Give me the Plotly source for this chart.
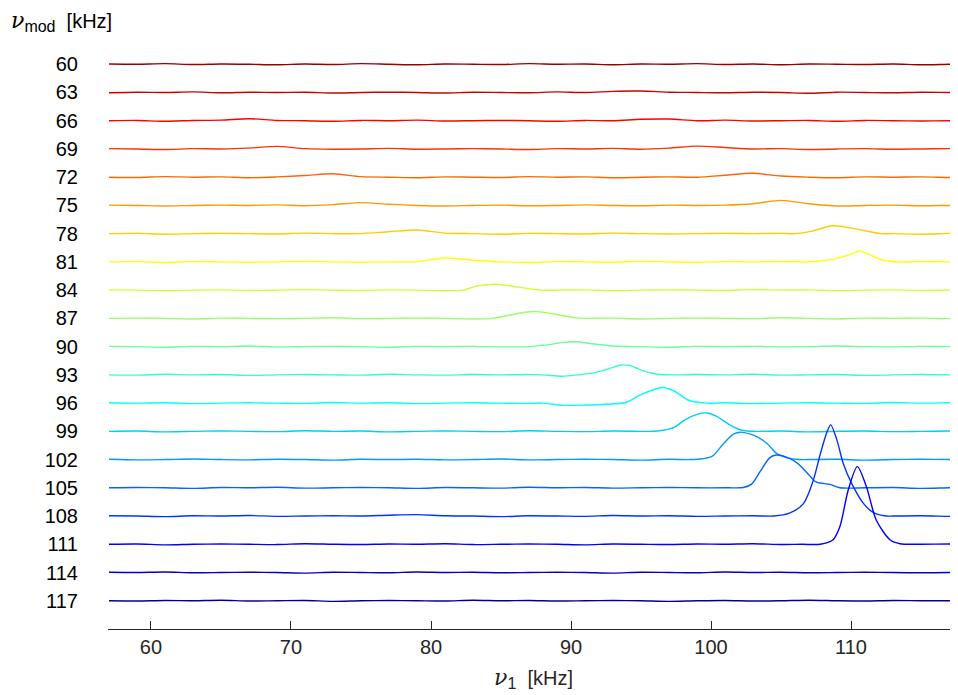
import plotly.graph_objects as go

# nu_mod values (offset of each trace), top to bottom
nu_mod = [60, 63, 66, 69, 72, 75, 78, 81, 84, 87, 90, 93, 96, 99, 102, 105, 108, 111, 114, 117]

# jet(20) colours, reversed (60 = dark red ... 117 = dark blue)
colors = ["#990000", "#cc0000", "#ff0000", "#ff3300", "#ff6600", "#ff9900", "#ffcc00",
          "#ffff00", "#ccff33", "#99ff66", "#66ff99", "#33ffcc", "#00ffff", "#00ccff",
          "#0099ff", "#0066ff", "#0033ff", "#0000ff", "#0000cc", "#000099"]

# baseline knot positions of nu_1 [kHz]
nu1_grid = [57, 59, 61, 63, 65, 67, 69, 71, 73, 75, 77, 79, 81, 83, 85, 87, 89, 91, 93, 95,
            97, 99, 101, 103, 105, 107, 109, 111, 113, 115, 117]
nu1_end = 117.6

# baseline wiggles (units of 0.01 of trace spacing), one value per grid knot
w60 = [1, 0, 2, -1, 1, 0, -2, 1, -1, 2, 0, -2, 1, 0, -1, 2, 0, 1, -2, 1, 0, 2, -1, 1, -2, 1, 0, -1, 1, -2, 0]
w63 = [-1, 1, 0, 2, -1, 1, 0, 1, -2, 0, 1, 0, -2, 1, 0, -1, 2, 0, 4, 5, 1, 0, -1, 1, 0, -3, 1, 0, -1, 1, 0]
w66 = [0, 1, -2, 1, 2, 7, 1, 0, -2, 1, 0, 2, -1, 0, 1, 0, -2, 1, 0, 5, 6, 0, 2, -1, 0, 1, -2, 1, 0, -1, 0]
w69 = [1, 0, -2, 1, 0, 3, 9, 1, -1, 0, 2, -1, 0, 1, 0, -2, 1, 0, 2, -1, 3, 10, 5, 0, 1, -2, 0, 1, -1, 0, 1]
w72 = [0, -1, 2, 0, 1, -2, 1, 6, 12, 2, 0, -2, 1, 0, -1, 2, 0, 1, -2, 0, 1, 0, 7, 14, 4, 0, -2, 1, 0, 1, -1]
w75 = [1, 0, -2, 0, 1, 0, 2, -1, 3, 10, 4, 0, -2, 0, 1, -1, 0, 2, 0, -1, 1, 0, 1, 6, 18, 6, -2, 0, 1, -1, 0]
w78 = [0, 1, -2, 0, 1, 0, -1, 2, 0, 0, 7, 13, 2, 0, -2, 1, 0, -1, 2, 0, -1, 0, 1, 0, 1, 0, 0, 0, 0, -2, 1]
w81 = [0, 1, -2, 1, 0, -1, 0, 2, 0, -1, 0, 1, 14, 6, 0, -2, 1, 0, -1, 2, 0, -1, 1, 0, 1, 0, 0, 0, 0, 1, 0]
w84 = [1, 0, -2, 0, 1, -1, 0, 2, 0, -1, 1, 0, -2, 0, 0, 0, 0, 1, -2, 0, 1, 0, -1, 2, 0, 1, -2, 0, 1, -1, 0]
w87 = [0, 1, 0, -2, 1, 0, -1, 0, 2, -1, 0, 1, 0, -2, 0, 0, 0, 0, 1, -2, 0, 1, 0, -1, 2, 0, -2, 1, 0, 1, -1]
w90 = [1, 0, -2, 1, 0, 2, -1, 0, 1, 0, -2, 1, 0, 1, -1, 0, 0, 0, 0, 0, -2, 1, 0, 1, -1, 0, 2, 0, -1, 1, 0]
w93 = [0, -1, 2, 0, 1, -2, 0, 1, 0, -1, 2, 0, -1, 1, 0, 1, 0, 0, 0, 0, -2, 1, 0, 2, -1, 0, 1, -2, 0, 1, 0]
w96 = [1, 0, 1, -2, 0, 1, 0, -1, 2, 0, 1, -2, 0, 1, 0, -1, 0, 0, 0, 0, 0, 0, 1, -2, 0, 1, 0, -1, 2, 0, 1]
w99 = [0, 1, -2, 0, 1, 0, -1, 2, 0, 1, -2, 0, 1, 0, -1, 2, 0, -1, 1, 0, 0, 0, 0, 0, 1, -2, 0, 1, -1, 0, 1]
w102 = [1, -1, 0, 2, 0, -1, 1, 0, -2, 1, 0, 1, -1, 0, 2, -1, 0, 1, 0, -2, 1, 0, 0, 0, 0, 0, 1, -2, 0, 1, 0]
w105 = [0, 1, 0, -2, 1, 0, 2, -1, 0, 1, 0, -2, 1, 0, -1, 2, 0, 1, -1, 0, 1, 0, 0, 0, 0, 0, 0, 0, 1, -2, 0]
w108 = [1, 0, -2, 1, 0, 2, -1, 0, 1, 0, 3, 5, 1, 0, -2, 1, 0, -1, 2, 0, 1, -1, 0, 1, 0, 0, 0, 0, 0, 1, -1]
w111 = [0, 1, -2, 0, 1, 0, -1, 2, 0, -1, 1, 0, 2, -1, 0, 1, 0, -2, 1, 0, -1, 1, 0, 2, -1, 0, 0, 0, 0, 0, 1]
w114 = [1, 0, 2, -1, 0, 1, 0, -2, 1, 0, -1, 2, 0, 1, -1, 0, 1, 0, -2, 1, 0, -1, 2, 0, 1, -1, 0, 1, 0, -1, 0]
w117 = [0, -1, 1, 0, 2, -1, 0, 1, -2, 0, 1, 0, -1, 2, 0, 1, -1, 0, 1, 0, -2, 0, 1, -1, 0, 2, 0, -1, 1, 0, 0]

# peak knots (nu_1 [kHz], height in units of trace spacing)
pk78 = [(106.0, 0.0), (107.3, 0.10), (108.7, 0.28), (110.4, 0.16), (112.1, 0.0)]
pk81 = [(107.5, 0.02), (108.5, 0.07), (109.7, 0.22), (110.6, 0.38), (111.4, 0.24), (112.3, 0.06), (113.5, 0.0)]
pk84 = [(82.3, 0.0), (83.3, 0.15), (84.7, 0.21), (86.3, 0.10), (87.8, 0.0)]
pk87 = [(84.4, 0.0), (85.5, 0.10), (86.5, 0.20), (87.6, 0.24), (89.2, 0.12), (90.3, 0.02)]
pk90 = [(87.0, 0.0), (88.3, 0.06), (89.3, 0.14), (90.4, 0.17), (91.5, 0.10), (93.0, 0.02), (94.5, 0.0)]
pk93 = [(88.0, 0.0), (89.4, -0.05), (90.5, 0.0), (91.6, 0.07), (92.6, 0.20), (93.6, 0.35), (94.2, 0.33),
        (95.1, 0.15), (96.2, 0.02), (97.5, 0.0)]
pk96 = [(88.0, 0.0), (89.5, -0.08), (91.0, -0.07), (92.5, -0.04), (93.9, 0.02), (95.0, 0.30), (96.5, 0.55),
        (97.4, 0.42), (98.4, 0.10), (99.7, 0.0)]
pk99 = [(95.5, 0.0), (96.6, 0.04), (97.4, 0.15), (98.1, 0.40), (99.0, 0.60), (99.7, 0.65), (100.4, 0.53),
        (101.4, 0.21), (102.2, 0.04), (103.2, 0.0)]
pk102 = [(98.5, 0.0), (99.4, 0.03), (100.1, 0.12), (100.9, 0.57), (101.6, 0.90), (102.1, 0.97), (102.8, 0.90),
         (103.3, 0.80), (104.0, 0.57), (104.7, 0.21), (105.4, 0.07), (106.3, 0.0)]
pk105 = [(101.3, 0.0), (102.3, 0.01), (102.9, 0.13), (103.5, 0.57), (104.2, 1.07), (104.7, 1.16), (105.6, 1.04),
         (106.2, 0.86), (106.9, 0.51), (107.5, 0.21), (108.5, 0.12), (109.2, 0.0)]
pk108 = [(104.5, 0.0), (105.6, 0.10), (106.6, 0.44), (107.3, 1.26), (107.8, 2.19), (108.3, 3.00), (108.55, 3.23),
         (109.0, 2.68), (109.45, 1.85), (110.05, 1.15), (110.9, 0.44), (111.6, 0.12), (112.5, 0.0)]
pk111 = [(106.5, 0.0), (107.8, 0.0), (108.7, 0.15), (109.2, 0.62), (109.8, 1.92), (110.45, 2.75), (111.1, 2.04),
         (111.8, 0.86), (112.8, 0.15), (113.5, 0.02), (114.5, 0.0)]

wiggles = [w60, w63, w66, w69, w72, w75, w78, w81, w84, w87, w90, w93, w96, w99, w102, w105, w108, w111, w114, w117]
peaks = {78: pk78, 81: pk81, 84: pk84, 87: pk87, 90: pk90, 93: pk93, 96: pk96, 99: pk99,
         102: pk102, 105: pk105, 108: pk108, 111: pk111}

SPACING = 3.0  # offset between traces in nu_mod units

fig = go.Figure()
for m, w, c in zip(nu_mod, wiggles, colors):
    pts = [(x, v * 0.01) for x, v in zip(nu1_grid, w)] + [(nu1_end, w[-1] * 0.01)]
    pk = peaks.get(m)
    if pk:
        lo, hi = pk[0][0], pk[-1][0]
        pts = [p for p in pts if p[0] < lo or p[0] > hi] + list(pk)
        pts.sort()
    xs = [p[0] for p in pts]
    ys = [m - SPACING * p[1] for p in pts]
    fig.add_trace(go.Scatter(x=xs, y=ys, mode="lines",
                             line=dict(color=c, width=1.4, shape="spline", smoothing=0.8),
                             showlegend=False, hoverinfo="skip"))

FONT = "Liberation Sans, Arial, sans-serif"
NU = "<span style='font-family:DejaVu Serif;font-size:22px'><i>ν</i></span>"
fig.update_layout(
    width=950, height=687,
    margin=dict(l=100, r=0, t=28, b=66),
    paper_bgcolor="white", plot_bgcolor="white",
    font=dict(family=FONT, size=20, color="#262626"),
    xaxis=dict(range=[56.93, 117.64], tickvals=[60, 70, 80, 90, 100, 110],
               ticks="inside", ticklen=8, tickcolor="#262626", tickwidth=1,
               showline=True, linecolor="#262626", linewidth=1,
               showgrid=False, zeroline=False,
               tickfont=dict(size=20, color="#262626", family=FONT)),
    yaxis=dict(range=[120, 57], tickvals=nu_mod, ticktext=[str(v) for v in nu_mod],
               showline=False, ticks="", showgrid=False, zeroline=False,
               ticklabelstandoff=29,
               tickfont=dict(size=20, color="#000000", family=FONT)),
    annotations=[
        dict(xref="paper", yref="paper", x=(9 - 108) / 850, y=(629 - 21) / 593,
             xanchor="left", yanchor="middle", showarrow=False,
             text=NU + "<sub><span style='font-size:16px'>mod</span></sub>  [kHz]",
             font=dict(size=20, color="#000000", family=FONT)),
        dict(xref="paper", yref="paper", x=0.5, y=(629 - 678) / 593,
             xanchor="center", yanchor="middle", showarrow=False,
             text=NU + "<sub><span style='font-size:16px'>1</span></sub>  [kHz]",
             font=dict(size=20, color="#262626", family=FONT)),
    ],
)

fig.write_html("out.html")
